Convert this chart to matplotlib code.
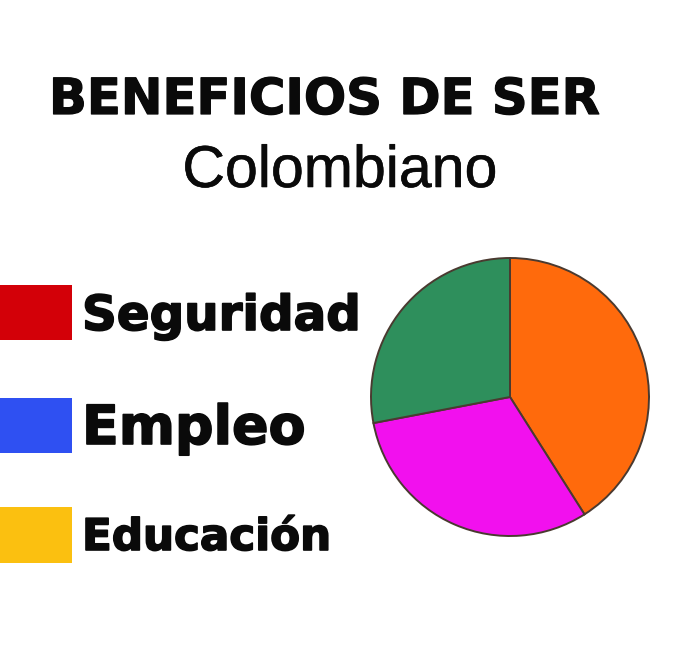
import matplotlib
matplotlib.use("Agg")
import matplotlib.pyplot as plt
from matplotlib.patches import Rectangle
import matplotlib.patheffects as pe

title_line1 = "BENEFICIOS DE SER"
title_line2 = "Colombiano"

legend_labels = ["Seguridad", "Empleo", "Educación"]
legend_colors = ["#D30008", "#2F50F2", "#FBC010"]

pie_values = [41, 31, 28]
pie_colors = ["#FF6A0C", "#F210EE", "#2E8F5C"]

W, H = 680, 669
fig = plt.figure(figsize=(W / 100, H / 100), dpi=100)
fig.patch.set_facecolor("white")

ov = fig.add_axes([0, 0, 1, 1])
ov.set_xlim(0, W)
ov.set_ylim(H, 0)
ov.axis("off")

heavy = lambda w: [pe.withStroke(linewidth=w, foreground="#0a0a0a")]

ov.text(325, 114, title_line1, fontsize=35.8, fontweight="bold",
        family="DejaVu Sans", ha="center", va="baseline", color="#0a0a0a",
        path_effects=heavy(0.9))
ov.text(340, 187, title_line2, fontsize=42.5, family="Liberation Sans",
        ha="center", va="baseline", color="#0a0a0a",
        path_effects=heavy(0.4))

box_tops = [285, 398, 507]
box_h = [55, 55, 56]
text_base = [330, 444, 550]
text_sizes = [34.8, 38.8, 31.4]
for lab, col, top, bh, tb, fs in zip(legend_labels, legend_colors, box_tops, box_h, text_base, text_sizes):
    ov.add_patch(Rectangle((-2, top), 74, bh, facecolor=col, edgecolor="none"))
    ov.text(82, tb, lab, fontsize=fs, fontweight="bold", family="DejaVu Sans",
            ha="left", va="baseline", color="#0a0a0a", path_effects=heavy(1.2))

cx, cy, r = 510, 397, 139
pad = 142
ax = fig.add_axes([(cx - pad) / W, (H - cy - pad) / H, 2 * pad / W, 2 * pad / H])
ax.pie(pie_values, colors=pie_colors, startangle=90, counterclock=False,
       radius=1.0, wedgeprops=dict(edgecolor="#4a3a30", linewidth=1.4))
lim = pad / r
ax.set_xlim(-lim, lim)
ax.set_ylim(-lim, lim)
ax.set_aspect("equal")
ax.axis("off")

fig.savefig("out.png", dpi=100, facecolor="white")
